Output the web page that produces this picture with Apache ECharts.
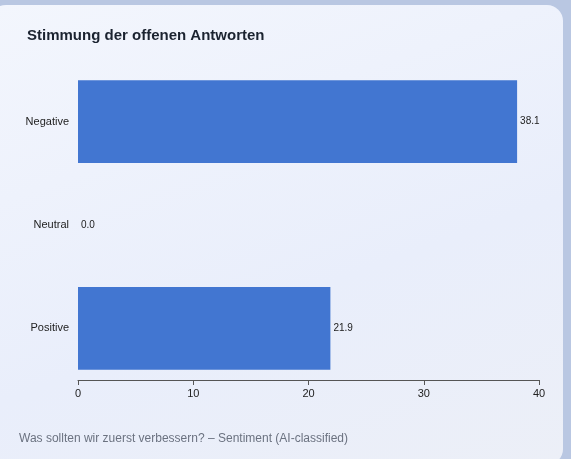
<!DOCTYPE html><html><head><meta charset="utf-8">
<script src="https://cdn.jsdelivr.net/npm/echarts@6/dist/echarts.min.js"></script>
<style>
html,body{margin:0;width:571px;height:459px;background:#b9c7e2;overflow:hidden;font-family:"Helvetica Neue",Arial,"Liberation Sans",sans-serif}
#card{position:absolute;left:-10px;top:5px;width:573px;height:460px;border-radius:16px;background:linear-gradient(160deg,#f3f6fd,#e9eefb 60%,#eceff7)}
#chart{position:absolute;left:0;top:0;width:571px;height:459px}
</style></head><body><div id="card"></div><div id="chart"></div>
<script>
const categories=["Negative","Neutral","Positive"];
const values=[38.1,0.0,21.9];
const c=echarts.init(document.getElementById('chart'));
c.setOption({
 title:[{text:"Stimmung der offenen Antworten",left:22,top:23,textStyle:{fontSize:15,fontWeight:'bold',color:'#1b2330'}},
 {text:"Was sollten wir zuerst verbessern? – Sentiment (AI-classified)",left:14,top:428,textStyle:{fontSize:12,fontWeight:'normal',color:'#6b7280'}}],
 grid:{left:78,right:32,top:70,bottom:79},
 xAxis:{type:'value',min:0,max:40,interval:10,splitLine:{show:false},axisLine:{show:true,lineStyle:{color:'#555'}},axisTick:{show:true,lineStyle:{color:'#555'}},axisLabel:{color:'#222',fontSize:11}},
 yAxis:{type:'category',inverse:true,data:categories,axisLine:{show:false},axisTick:{show:false},axisLabel:{color:'#222',fontSize:11,margin:9}},
 series:[{type:'bar',data:values,barCategoryGap:'20%',itemStyle:{color:'#4276d1'},label:{show:true,position:'right',distance:3,fontSize:10,color:'#222',formatter:p=>p.value.toFixed(1)}}]
});
</script></body></html>
